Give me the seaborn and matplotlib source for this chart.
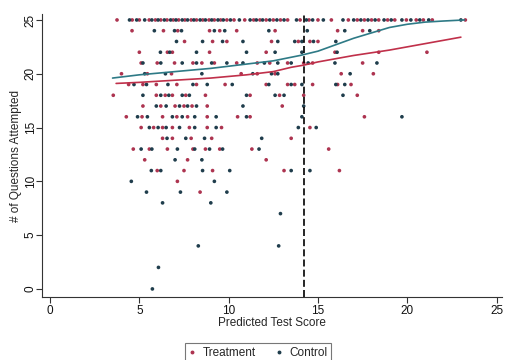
import matplotlib
matplotlib.use("Agg")
import matplotlib.pyplot as plt
import seaborn as sns
import pandas as pd

# ---- data ----
treat_x = [
    3.75, 4.6, 5.0, 5.55, 5.9, 6.2, 6.55, 6.9, 7.2, 7.55, 7.9, 8.2, 8.55, 8.9, 9.2, 9.55, 9.9, 10.3, 10.9, 11.4,
    11.75, 12.1, 12.5, 12.9, 13.3, 14.0, 14.5, 15.0, 15.75, 16.7, 17.2, 17.6, 18.0, 18.4, 18.9, 19.3, 19.95, 20.5,
    20.9, 21.4, 23.25,
    4.59, 6.35, 7.15, 8.93, 9.5, 10.45, 12.6, 16.1, 17.5, 18.4,
    7.53, 9.1, 9.9, 12.4, 13.9, 14.55, 15.0,
    5.0, 6.57, 6.85, 8.93, 12.1, 15.95, 18.4, 21.1,
    5.1, 6.0, 6.97, 8.0, 8.5, 9.2, 10.45, 11.6, 12.3, 13.3, 14.2, 14.7, 17.5,
    4.0, 5.45, 6.8, 10.7, 11.6, 12.6, 16.3, 18.1,
    4.4, 5.2, 5.95, 7.1, 8.2, 9.8, 12.1, 13.3, 13.7, 14.7, 16.1, 16.85,
    3.54, 5.95, 6.45, 6.85, 7.6, 8.7, 11.2, 12.85, 14.2, 17.2,
    5.2, 6.2, 7.0, 7.5, 7.95, 8.8, 13.0,
    4.27, 5.15, 6.3, 7.1, 7.7, 8.8, 10.5, 11.2, 17.6,
    5.1, 5.8, 6.3, 6.85, 7.8, 8.8, 9.6, 14.55,
    6.3, 6.85, 7.9, 9.05, 13.5,
    4.66, 5.56, 6.57, 8.0, 8.7, 9.5, 11.3, 15.6,
    5.3, 7.7, 12.1,
    6.0, 7.5, 9.1, 13.1, 16.2,
    7.13,
    8.4,
]
treat_y = (
    [25] * 41 + [24] * 10 + [23] * 7 + [22] * 8 + [21] * 13 + [20] * 8 + [19] * 12 + [18] * 10
    + [17] * 7 + [16] * 9 + [15] * 8 + [14] * 5 + [13] * 8 + [12] * 3 + [11] * 5 + [10] * 1 + [9] * 1
)

ctrl_x = [
    4.45, 4.85, 5.3, 5.7, 6.05, 6.4, 6.75, 7.05, 7.4, 7.7, 8.05, 8.4, 8.7, 9.05, 9.4, 9.7, 10.1, 10.6, 11.2, 11.55,
    11.9, 12.3, 12.7, 13.1, 13.8, 14.35, 14.7, 15.3, 16.4, 17.0, 17.4, 17.8, 18.2, 18.7, 19.1, 19.7, 20.2, 20.7,
    21.2, 23.0,
    5.84, 6.97, 7.36, 9.2, 9.78, 12.25, 14.4, 16.5, 17.9,
    7.08, 8.54, 9.66, 10.8, 12.75, 13.7, 14.1, 14.75, 16.0,
    6.18, 6.7, 8.2, 11.0, 12.6, 14.1, 16.07,
    5.2, 6.2, 7.4, 8.2, 9.05, 9.9, 10.8, 12.0, 12.75, 13.5, 14.45, 15.95, 18.3,
    5.3, 6.46, 8.5, 11.35, 12.4, 12.75, 16.8,
    4.7, 5.4, 6.6, 8.0, 8.8, 10.2, 12.25, 13.5, 14.1, 16.0, 16.5,
    5.2, 6.2, 6.65, 7.4, 7.8, 11.0, 12.6, 13.1, 16.4,
    5.95, 6.5, 7.25, 7.7, 8.2, 10.8, 14.2,
    4.9, 5.45, 6.85, 7.4, 8.1, 9.3, 11.0, 14.1, 19.7,
    5.56, 6.05, 6.5, 7.25, 8.1, 9.3, 13.9, 14.9,
    6.55, 7.6, 8.65, 11.85,
    5.1, 5.7, 7.13, 8.1, 8.93, 9.66, 11.7,
    7.0, 8.5,
    5.67, 6.2, 8.54, 10.06, 13.5, 14.55,
    4.55, 9.2,
    5.4, 7.3, 9.9,
    6.3, 9.0,
    12.9,
    8.3, 12.8,
    6.07,
    5.73,
]
ctrl_y = (
    [25] * 40 + [24] * 9 + [23] * 9 + [22] * 7 + [21] * 13 + [20] * 7 + [19] * 11 + [18] * 9
    + [17] * 7 + [16] * 9 + [15] * 8 + [14] * 4 + [13] * 7 + [12] * 2 + [11] * 6 + [10] * 2 + [9] * 3
    + [8] * 2 + [7] * 1 + [4] * 2 + [2] * 1 + [0] * 1
)

# smoothed (lowess) curves
upper_x = [3.5, 5, 7, 9, 11, 12.5, 14, 15, 16, 17, 18, 19, 20, 21, 22, 23.2]
upper_y = [19.6, 19.9, 20.2, 20.5, 20.9, 21.2, 21.7, 22.1, 22.7, 23.3, 23.8, 24.3, 24.6, 24.8, 24.9, 25.0]
lower_x = [3.7, 5, 7, 9, 11, 12.5, 13.5, 14.2, 15, 16, 17, 18, 19, 20, 21, 22, 23]
lower_y = [19.1, 19.2, 19.4, 19.6, 19.9, 20.2, 20.6, 20.8, 21.1, 21.4, 21.7, 21.95, 22.2, 22.5, 22.8, 23.1, 23.4]

cutoff = 14.2
x_ticks = [0, 5, 10, 15, 20, 25]
y_ticks = [0, 5, 10, 15, 20, 25]
groups = ["Treatment", "Control"]

# ---- plotting ----
sns.set_theme(style="white")
plt.rcParams["font.family"] = ["Liberation Sans", "DejaVu Sans"]

df = pd.DataFrame({
    "x": treat_x + ctrl_x,
    "y": treat_y + ctrl_y,
    "group": [groups[0]] * len(treat_x) + [groups[1]] * len(ctrl_x),
})

fig = plt.figure(figsize=(5.06, 3.6), dpi=100)
ax = fig.add_axes([0.083, 0.175, 0.909, 0.786])

palette = {"Treatment": "#ad3450", "Control": "#1f3d4c"}
sns.scatterplot(data=df, x="x", y="y", hue="group", palette=palette, s=7,
                linewidth=0, ax=ax, legend=False, zorder=3)

sns.lineplot(x=upper_x, y=upper_y, color="#2e7a86", linewidth=1.2, ax=ax, zorder=4)
sns.lineplot(x=lower_x, y=lower_y, color="#c0304a", linewidth=1.2, ax=ax, zorder=4)

ax.axvline(cutoff, color="black", linewidth=1.2, linestyle=(0, (4.2, 1.9)), zorder=5)

ax.set_xlim(-0.45, 25.3)
ax.set_ylim(-0.75, 25.55)
ax.set_xticks(x_ticks)
ax.set_yticks(y_ticks)
ax.set_yticklabels([str(v) for v in y_ticks], rotation=90, va="center")
ax.tick_params(axis="both", direction="out", length=4, width=0.8, colors="#333333",
               labelsize=8.5, labelcolor="#111111", pad=1.5)
ax.tick_params(axis="y", pad=-0.3)
ax.tick_params(left=True, bottom=True)

for side in ["top", "right"]:
    ax.spines[side].set_visible(False)
for side in ["left", "bottom"]:
    ax.spines[side].set_color("#333333")
    ax.spines[side].set_linewidth(0.8)

ax.set_xlabel("Predicted Test Score", fontsize=8.5, labelpad=0)
ax.set_ylabel("# of Questions Attempted", fontsize=8.5, labelpad=1)
ax.yaxis.set_label_coords(-0.043, 0.5)
ax.grid(False)

handles = [
    plt.Line2D([], [], marker="o", linestyle="", markersize=1.8, color="#ad3450"),
    plt.Line2D([], [], marker="o", linestyle="", markersize=1.8, color="#1f3d4c"),
]
fig.legend(handles, groups, loc="upper center", bbox_to_anchor=(0.51, 0.063), ncol=2,
           fontsize=8.5, frameon=True, fancybox=False, edgecolor="#555555",
           handlelength=0.6, handletextpad=0.6, columnspacing=1.6, borderpad=0.3)
leg = fig.legends[0]
leg.get_frame().set_linewidth(0.8)

fig.savefig("out.png", dpi=100)
